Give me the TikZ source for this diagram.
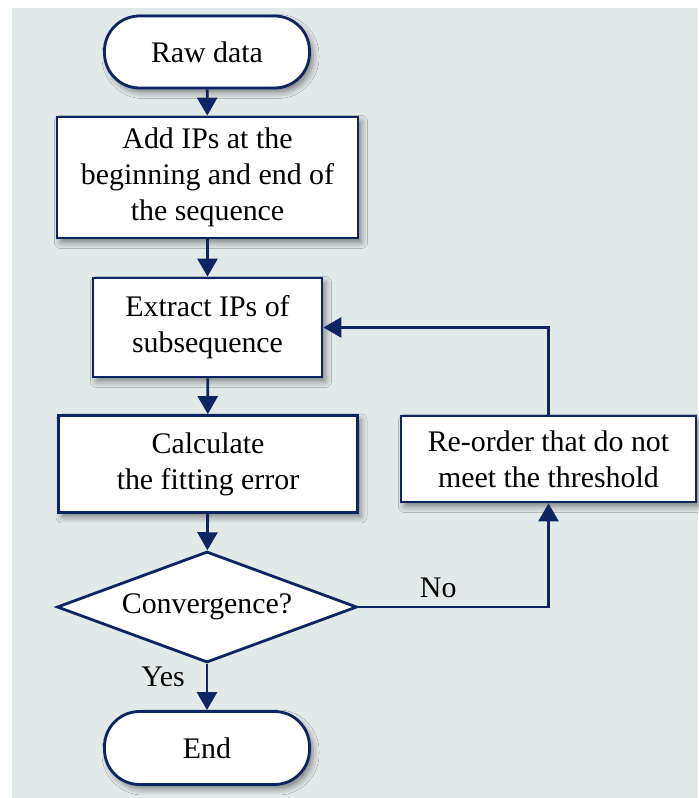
\documentclass[tikz,border=0pt]{standalone}
\usepackage{fontspec}
\setmainfont{Liberation Serif}
\usepackage{tikz}
\usetikzlibrary{arrows.meta, positioning, shapes, shadows.blur}
\definecolor{navy}{RGB}{13,38,99}
\definecolor{bggray}{RGB}{226,233,233}

\begin{document}
\begin{tikzpicture}[ % GLOBAL CFG
    font=\fontsize{17}{20.4}\selectfont,
    >={Triangle[length=3.6mm, width=4mm]},
    % Styles
    terminal/.style={% For start and end
        rectangle,
        rounded corners=7mm,
        draw=navy,
        line width=1.6pt,
        fill=white,
        minimum width=4.1cm,
        minimum height=1.44cm,
        blur shadow={shadow xshift=.7mm, shadow yshift=-.9mm, shadow blur radius=1.2mm, shadow opacity=45},
        },
    process/.style={% For the working steps
        rectangle,
        draw=navy,
        line width=1.6pt,
        fill=white,
        align=center,
        blur shadow={shadow xshift=.7mm, shadow yshift=-.9mm, shadow blur radius=1.2mm, shadow opacity=45},
        },
    decision/.style={% For the test
        diamond,
        aspect=2.7,
        inner sep=0pt,
        draw=navy,
        line width=1.6pt,
        fill=white,
        minimum width=6cm,
        minimum height=2.22cm,
        },
    ArrowC1/.style={% Plain connectors
        ->,
        draw=navy,
        line width=1.6pt,
        },
    ]

    % page and background
    \useasboundingbox (0,0) rectangle (13.96,15.96);
    \fill [bggray] (0.24,0) rectangle (13.96,15.80);

    % main column
    \node [terminal] (raw) at (4.14, 14.92) {Raw data};
    \node [process, minimum width=6.02cm, minimum height=2.42cm] (addip) at (4.15, 12.41)
        {Add IPs at the\\beginning and end of\\the sequence};
    \node [process, minimum width=4.58cm, minimum height=1.98cm] (extract) at (4.15, 9.41)
        {Extract IPs of\\subsequence};
    \node [process, minimum width=5.98cm, minimum height=1.94cm] (calc) at (4.16, 6.68)
        {Calculate\\the fitting error};
    \node [decision] (conv) at (4.14, 3.82) {Convergence?};
    \node [terminal, minimum height=1.46cm] (stop) at (4.14, 1.00) {End};

    % loop back
    \node [process, minimum width=5.9cm, minimum height=1.72cm] (reorder) at (10.97, 6.78)
        {Re-order that do not\\meet the threshold};

    \draw [ArrowC1] (raw) -- (addip);
    \draw [ArrowC1] (addip) -- (extract);
    \draw [ArrowC1] (extract) -- (calc);
    \draw [ArrowC1] (calc) -- (conv);
    \draw [ArrowC1] (conv) -- (stop) node[pos=0.27, left=0.3cm] {Yes};
    \draw [ArrowC1] (conv.east) -| (reorder.south) node[pos=0.21, above=1pt] {No};
    \draw [ArrowC1] (reorder.north) |- (extract.east);

\end{tikzpicture}
\end{document}
